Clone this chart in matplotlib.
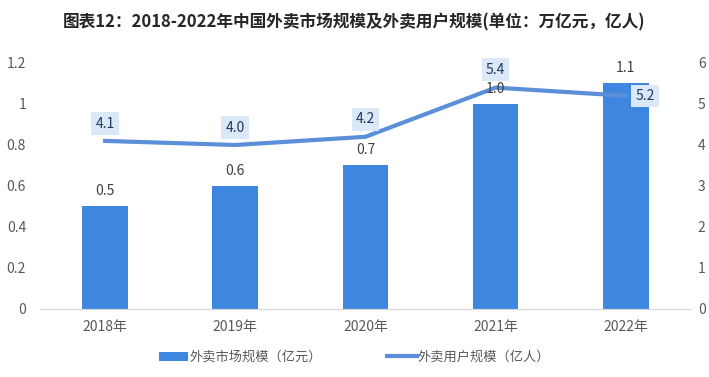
import matplotlib.pyplot as plt
import numpy as np

plt.rcParams['font.family'] = ['Noto Sans CJK SC', 'DejaVu Sans']

years = ['2018年', '2019年', '2020年', '2021年', '2022年']
market = [0.5, 0.6, 0.7, 1.0, 1.1]      # 万亿元
users = [4.1, 4.0, 4.2, 5.4, 5.2]       # 亿人

bar_color = '#3f86e0'
line_color = '#5b8fd9'
tick_color = '#595959'

fig = plt.figure(figsize=(7.09, 3.77), dpi=100)
ax = fig.add_axes([0.0564, 0.1804, 0.918, 0.6525])
ax2 = ax.twinx()

x = np.arange(len(years))
bars = ax.bar(x, market, width=0.35, color=bar_color, label='外卖市场规模（亿元）', zorder=2)
ax.set_xlim(-0.5, len(years) - 0.5)
ax.set_ylim(0, 1.2)
ax.set_yticks([0, 0.2, 0.4, 0.6, 0.8, 1.0, 1.2])
ax.set_yticklabels(['0', '0.2', '0.4', '0.6', '0.8', '1', '1.2'])
ax.set_xticks(x)
ax.set_xticklabels(years)

line, = ax2.plot(x, users, color=line_color, lw=3, label='外卖用户规模（亿人）', zorder=3)
ax2.set_ylim(0, 6)
ax2.set_yticks(range(7))

# bar value labels drawn in the bar axes' data coords but on top of the line
for b, v in zip(bars, market):
    ax2.annotate(f'{v:.1f}', (b.get_x() + b.get_width() / 2, v),
                 xycoords=ax.transData, xytext=(0, 11),
                 textcoords='offset points', ha='center', va='center',
                 fontsize=10, color='#404040', zorder=5)

offsets = [(0, 12.5), (0, 12.5), (0, 12.5), (0, 13), (14, 0)]
for i, (v, off) in enumerate(zip(users, offsets)):
    ax2.annotate(f'{v:.1f}', (x[i], v), xytext=off, textcoords='offset points',
                 ha='center', va='center', fontsize=10, color='#1f3864', zorder=6,
                 bbox=dict(boxstyle='square,pad=0.3', fc='#dbe8f7', ec='none'))

for a in (ax, ax2):
    for s in ['top', 'left', 'right']:
        a.spines[s].set_visible(False)
    a.spines['bottom'].set_color('#d9d9d9')
    a.tick_params(length=0, colors=tick_color, labelsize=10)
ax.tick_params(axis='y', pad=10)
ax.tick_params(axis='x', pad=8)
ax2.tick_params(axis='y', pad=5)

fig.text(0.5, 0.94, '图表12：2018-2022年中国外卖市场规模及外卖用户规模(单位：万亿元，亿人)',
         ha='center', va='center', fontsize=12, fontweight='bold', color='#262626')

fig.legend(handles=[bars, line], loc='center', bbox_to_anchor=(0.5, 0.052), ncol=2,
           frameon=False, fontsize=9.5, handlelength=2.2, columnspacing=5,
           handletextpad=0.1, labelcolor=tick_color)

fig.savefig('out.png', dpi=100)
